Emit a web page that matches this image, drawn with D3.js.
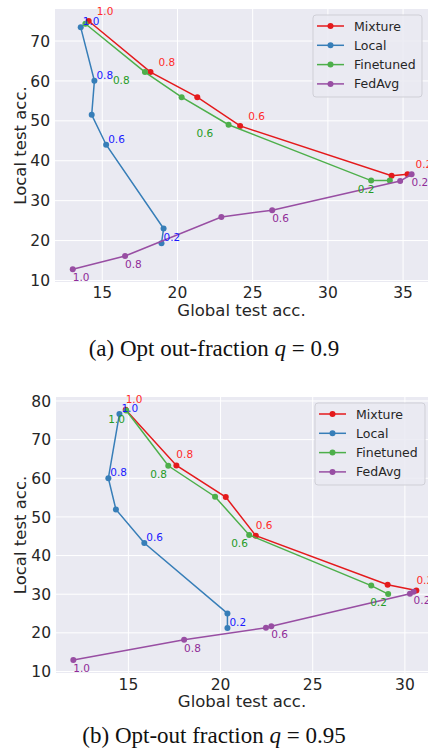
<!DOCTYPE html>
<html>
<head>
<meta charset="utf-8">
<script src="https://cdn.jsdelivr.net/npm/d3@7"></script>
<style>
  html, body { margin: 0; padding: 0; background: #ffffff; }
  svg { display: block; }
</style>
</head>
<body>
<svg id="chart" width="428" height="749"></svg>
<script>
// ---------- DATA ----------
const seriesNames = ["Mixture", "Local", "Finetuned", "FedAvg"];
const fracLabels = ["1.0", "0.8", null, "0.6", null, "0.2"];
const finetunedLabelsA = [null, "0.8", null, "0.6", null, "0.2"];

// Panel (a): q = 0.9   [global acc, local acc]
const mixtureA   = [[14.13, 74.9], [18.24, 62.1], [21.35, 55.8], [24.2, 48.6], [34.27, 36.1], [35.33, 36.5]];
const localA     = [[13.6, 73.3], [14.51, 59.9], [14.33, 51.4], [15.29, 43.9], [19.11, 22.9], [18.97, 19.2]];
const finetunedA = [[13.91, 74.2], [17.87, 62.1], [20.31, 55.8], [23.43, 48.9], [32.91, 34.9], [34.15, 34.9]];
const fedavgA    = [[13.07, 12.7], [16.55, 16.0], [22.95, 25.8], [26.33, 27.5], [34.84, 34.8], [35.6, 36.5]];

// Panel (b): q = 0.95
const mixtureB   = [[14.88, 77.6], [17.63, 63.2], [20.31, 55.0], [21.94, 45.0], [29.09, 32.3], [30.65, 30.8]];
const localB     = [[14.54, 76.5], [13.94, 59.9], [14.35, 51.8], [15.89, 43.1], [20.4, 24.9], [20.4, 21.1]];
const finetunedB = [[14.91, 77.4], [17.19, 63.1], [19.73, 55.1], [21.58, 45.2], [28.2, 32.1], [29.12, 29.9]];
const fedavgB    = [[12.04, 12.85], [18.05, 18.1], [22.49, 21.2], [22.78, 21.6], [30.3, 30.0], [30.5, 30.5]];

const xTicksA = [15, 20, 25, 30, 35];
const yTicksA = [10, 20, 30, 40, 50, 60, 70];
const xTicksB = [15, 20, 25, 30];
const yTicksB = [10, 20, 30, 40, 50, 60, 70, 80];

const xLabel = "Global test acc.";
const yLabel = "Local test acc.";

// ---------- STYLES ----------
const lineColors  = { Mixture: "#e41a1c", Local: "#377eb8", Finetuned: "#4daf4a", FedAvg: "#984ea3" };
const labelColors = { Mixture: "#ff2a2a", Local: "#1a1aff", Finetuned: "#259a25", FedAvg: "#902c98" };
const FONT = "'DejaVu Sans', Verdana, sans-serif";
const SERIF = "'Liberation Serif', 'Times New Roman', serif";

const panels = [
  {
    data: { Mixture: mixtureA, Local: localA, Finetuned: finetunedA, FedAvg: fedavgA },
    labels: { Mixture: fracLabels, Local: fracLabels, Finetuned: finetunedLabelsA, FedAvg: fracLabels },
    xTicks: xTicksA, yTicks: yTicksA,
    xDomain: [11.89, 36.69], yDomain: [9.5, 77.9],
    rect: { left: 55, top: 9, right: 428, bottom: 282 },
    labelOffsets: { Mixture: [8, -6], Local: [2, -2], Finetuned: [-32, 12], FedAvg: [0, 12] },
    legend: { x: 313, y: 15, w: 109, h: 82 },
    xTickBase: 16, xLabelY: 316, yLabelX: 26,
    caption: ["(a) Opt out-fraction ", "q", " = 0.9"], captionY: 356
  },
  {
    data: { Mixture: mixtureB, Local: localB, Finetuned: finetunedB, FedAvg: fedavgB },
    labels: { Mixture: fracLabels, Local: fracLabels, Finetuned: fracLabels, FedAvg: fracLabels },
    xTicks: xTicksB, yTicks: yTicksB,
    xDomain: [11.1, 31.28], yDomain: [9.48, 80.9],
    rect: { left: 56, top: 397, right: 428, bottom: 673 },
    labelOffsets: { Mixture: [0, -7], Local: [2, -2], Finetuned: [-18, 12], FedAvg: [0, 12] },
    legend: { x: 315, y: 403, w: 110, h: 82 },
    xTickBase: 17, xLabelY: 707, yLabelX: 26,
    caption: ["(b) Opt-out fraction ", "q", " = 0.95"], captionY: 743
  }
];

const svg = d3.select("#chart");

panels.forEach(p => {
  const r = p.rect;
  const x = d3.scaleLinear().domain(p.xDomain).range([r.left, r.right]);
  const y = d3.scaleLinear().domain(p.yDomain).range([r.bottom, r.top]);
  const g = svg.append("g");

  // background
  g.append("rect").attr("x", r.left).attr("y", r.top)
    .attr("width", r.right - r.left).attr("height", r.bottom - r.top)
    .attr("fill", "#eaeaf2");

  // grid via axes
  const gx = g.append("g").attr("transform", `translate(0,${r.bottom})`)
    .call(d3.axisBottom(x).tickValues(p.xTicks).tickSize(-(r.bottom - r.top)).tickFormat(d3.format("d")).tickPadding(0));
  const gy = g.append("g").attr("transform", `translate(${r.left},0)`)
    .call(d3.axisLeft(y).tickValues(p.yTicks).tickSize(-(r.right - r.left)).tickFormat(d3.format("d")).tickPadding(5));
  [gx, gy].forEach(ax => {
    ax.select(".domain").remove();
    ax.selectAll(".tick line").attr("stroke", "#ffffff").attr("stroke-width", 1);
    ax.selectAll(".tick text").attr("fill", "#262626").style("font-family", FONT).style("font-size", "15.5px");
  });
  gx.selectAll(".tick text").attr("y", p.xTickBase).attr("dy", 0);
  gy.selectAll(".tick text").attr("dy", "0.36em");

  // clip
  const clipId = "clip" + r.top;
  g.append("clipPath").attr("id", clipId).append("rect")
    .attr("x", r.left).attr("y", r.top).attr("width", r.right - r.left).attr("height", r.bottom - r.top);

  const line = d3.line().x(d => x(d[0])).y(d => y(d[1]));
  const plot = g.append("g").attr("clip-path", `url(#${clipId})`);
  seriesNames.forEach(name => {
    const d = p.data[name];
    plot.append("path").datum(d).attr("d", line)
      .attr("fill", "none").attr("stroke", lineColors[name]).attr("stroke-width", 1.5);
    plot.selectAll(null).data(d).enter().append("circle")
      .attr("cx", v => x(v[0])).attr("cy", v => y(v[1])).attr("r", 3)
      .attr("fill", lineColors[name]);
  });
  // point labels
  seriesNames.forEach(name => {
    const d = p.data[name];
    const labs = p.labels[name];
    const off = p.labelOffsets[name];
    g.selectAll(null).data(d.map((v, i) => ({ v, t: labs[i] })).filter(o => o.t))
      .enter().append("text")
      .attr("x", o => x(o.v[0]) + off[0]).attr("y", o => y(o.v[1]) + off[1])
      .attr("fill", labelColors[name])
      .style("font-family", FONT).style("font-size", "10.5px")
      .text(o => o.t);
  });

  // axis labels
  g.append("text").attr("x", (r.left + r.right) / 2 - 0).attr("y", p.xLabelY)
    .attr("text-anchor", "middle").attr("fill", "#262626")
    .style("font-family", FONT).style("font-size", "16.5px").text(xLabel);
  g.append("text")
    .attr("transform", `translate(${p.yLabelX},${(r.top + r.bottom) / 2}) rotate(-90)`)
    .attr("text-anchor", "middle").attr("fill", "#262626")
    .style("font-family", FONT).style("font-size", "16.5px").text(yLabel);

  // legend
  const L = p.legend;
  const lg = g.append("g");
  lg.append("rect").attr("x", L.x).attr("y", L.y).attr("width", L.w).attr("height", L.h)
    .attr("rx", 3).attr("fill", "#eaeaf2").attr("fill-opacity", 0.85)
    .attr("stroke", "#cfcfd6").attr("stroke-width", 1);
  seriesNames.forEach((name, i) => {
    const cy = L.y + 11 + i * 19.3;
    lg.append("line").attr("x1", L.x + 4).attr("x2", L.x + 31).attr("y1", cy).attr("y2", cy)
      .attr("stroke", lineColors[name]).attr("stroke-width", 1.5);
    lg.append("circle").attr("cx", L.x + 17.5).attr("cy", cy).attr("r", 3).attr("fill", lineColors[name]);
    lg.append("text").attr("x", L.x + 41).attr("y", cy).attr("dy", "0.36em")
      .attr("fill", "#262626").style("font-family", FONT).style("font-size", "12.5px").text(name);
  });

  // caption
  const cap = svg.append("text").attr("x", 214).attr("y", p.captionY).attr("text-anchor", "middle")
    .attr("fill", "#111").style("font-family", SERIF).style("font-size", "23px");
  cap.append("tspan").text(p.caption[0]);
  cap.append("tspan").style("font-style", "italic").text(p.caption[1]);
  cap.append("tspan").text(p.caption[2]);
});
</script>
</body>
</html>
